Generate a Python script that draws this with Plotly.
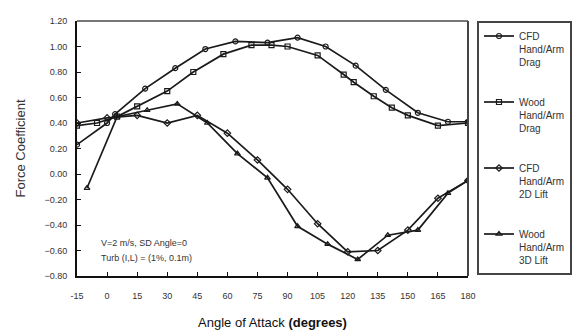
import plotly.graph_objects as go

# ---- data ----
cfd_drag_x = [-15, 0, 4, 19, 34, 49, 64, 80, 95, 109, 124, 139, 155, 170, 180]
cfd_drag_y = [0.23, 0.40, 0.47, 0.67, 0.83, 0.98, 1.04, 1.03, 1.07, 1.00, 0.85, 0.66, 0.48, 0.41, 0.41]

wood_drag_x = [-15, -5, 5, 15, 30, 43, 58, 72, 82, 90, 105, 118, 123, 133, 142, 150, 165, 180]
wood_drag_y = [0.38, 0.40, 0.45, 0.53, 0.65, 0.80, 0.94, 1.01, 1.01, 1.00, 0.93, 0.78, 0.72, 0.61, 0.52, 0.46, 0.38, 0.40]

cfd_lift_x = [-15, 0, 15, 30, 45, 60, 75, 90, 105, 120, 135, 150, 165, 180]
cfd_lift_y = [0.40, 0.44, 0.46, 0.40, 0.46, 0.32, 0.11, -0.12, -0.39, -0.61, -0.60, -0.44, -0.19, -0.05]

wood_lift_x = [-10, 5, 20, 35, 50, 65, 80, 95, 110, 125, 140, 155, 170, 180]
wood_lift_y = [-0.11, 0.45, 0.50, 0.55, 0.40, 0.16, -0.03, -0.41, -0.55, -0.67, -0.48, -0.44, -0.15, -0.05]

series_names = ["CFD<br>Hand/Arm<br>Drag", "Wood<br>Hand/Arm<br>Drag",
                "CFD<br>Hand/Arm<br>2D Lift", "Wood<br>Hand/Arm<br>3D Lift"]
x_ticks = [-15, 0, 15, 30, 45, 60, 75, 90, 105, 120, 135, 150, 165, 180]
y_ticks = [1.2, 1.0, 0.8, 0.6, 0.4, 0.2, 0.0, -0.2, -0.4, -0.6, -0.8]

fig = go.Figure()
data = [(cfd_drag_x, cfd_drag_y, "circle-open"),
        (wood_drag_x, wood_drag_y, "square-open"),
        (cfd_lift_x, cfd_lift_y, "diamond-open"),
        (wood_lift_x, wood_lift_y, "triangle-up-open")]
for i, ((xs, ys, sym), name) in enumerate(zip(data, series_names)):
    fig.add_trace(go.Scatter(
        x=xs, y=ys, name=name, mode="lines+markers", legendgroup=f"g{i}",
        line=dict(color="#1a1a1a", width=1.7),
        marker=dict(symbol=sym, size=5, color="#1a1a1a", line=dict(width=1.2)),
    ))

fig.add_annotation(x=-4, y=-0.54, xref="x", yref="y", text="V=2 m/s, SD Angle=0",
                   showarrow=False, xanchor="left", font=dict(size=9, color="#333"))
fig.add_annotation(x=-4, y=-0.66, xref="x", yref="y", text="Turb (I,L) = (1%, 0.1m)",
                   showarrow=False, xanchor="left", font=dict(size=9, color="#333"))

# plot frame: grey top, dark right
fig.add_shape(type="line", xref="paper", yref="paper", x0=0, x1=1, y0=1, y1=1,
              line=dict(color="#777", width=2))
fig.add_shape(type="line", xref="paper", yref="paper", x0=1, x1=1, y0=0, y1=1,
              line=dict(color="#444", width=2))

fig.update_layout(
    width=576, height=336,
    margin=dict(l=77, r=108, t=21, b=60, autoexpand=False),
    paper_bgcolor="white", plot_bgcolor="white",
    font=dict(family="Liberation Sans, Arial, sans-serif", color="#333", size=9),
    showlegend=True,
    legend=dict(x=1.023, xanchor="left", y=1.0, yanchor="top", valign="top",
                bordercolor="#444", borderwidth=2, bgcolor="white",
                font=dict(size=10, color="#333"), tracegroupgap=24,
                itemwidth=30, maxheight=320),
    xaxis=dict(range=[-15, 180], tickvals=x_ticks, ticktext=[str(v) for v in x_ticks],
               showgrid=False, zeroline=False, showline=True, linecolor="#111", linewidth=2,
               ticks="inside", ticklen=4, tickcolor="#111", ticklabelstandoff=10,
               tickfont=dict(size=9, color="#333"),
               title=dict(text="Angle of Attack <b>(degrees)</b>",
                          font=dict(size=13, color="#111"), standoff=18)),
    yaxis=dict(range=[-0.8, 1.2], tickvals=y_ticks, tickformat=".2f",
               showgrid=False, zeroline=False, showline=True, linecolor="#111", linewidth=2,
               ticks="inside", ticklen=4, tickcolor="#111", ticklabelstandoff=6,
               tickfont=dict(size=9, color="#333"),
               title=dict(text="Force Coefficient", font=dict(size=13, color="#333"), standoff=16)),
)

fig.write_html("out.html")
